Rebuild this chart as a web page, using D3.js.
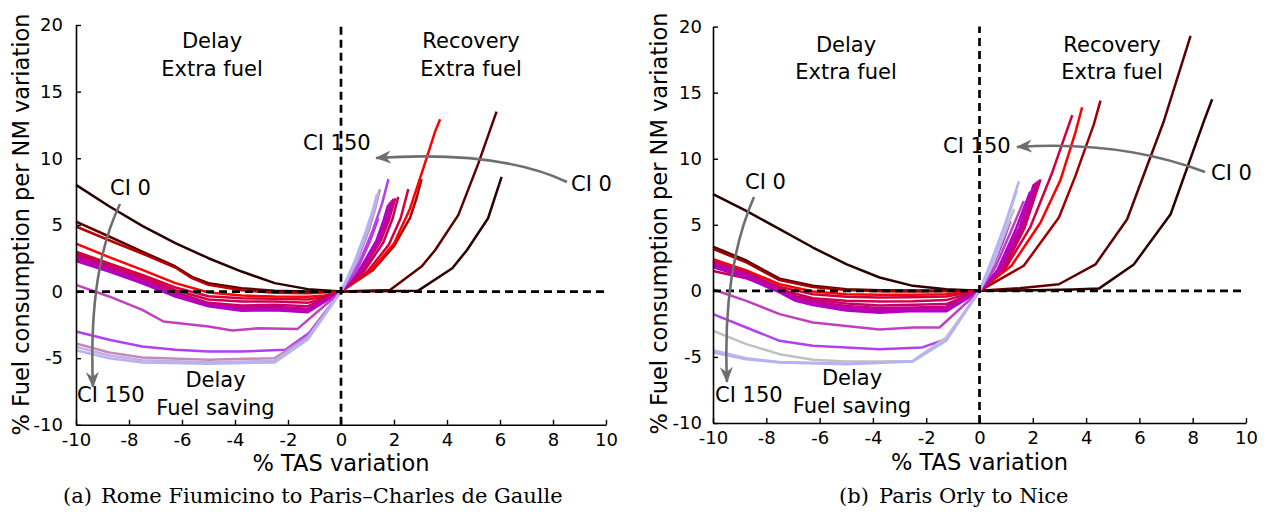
<!DOCTYPE html>
<html>
<head>
<meta charset="utf-8">
<script src="https://cdn.jsdelivr.net/npm/d3@7"></script>
<style>
  html, body { margin: 0; padding: 0; background: #fff; }
  svg { display: block; font-family: "DejaVu Sans", sans-serif; }
</style>
</head>
<body>
<svg id="chart" width="1267" height="515"></svg>
<script>
// Cost index levels, one curve per level
const ciLevels = [0, 10, 20, 30, 40, 50, 60, 70, 80, 90, 100, 110, 120, 130, 140, 150];

const romeColors = ['#2b0000', '#5e0000', '#b80000', '#ff0000', '#d4003a', '#cc0050', '#c8006c', '#c40084',
                    '#c0009c', '#bb00b0', '#b400c4', '#c040c0', '#b040f0', '#c38bbb', '#c8aee0', '#b4b4f4'];
const niceColors = ['#2b0000', '#5e0000', '#a00000', '#ff0000', '#d00038', '#cc0050', '#c8006c', '#c40084',
                    '#c0009c', '#bb00b0', '#b400c4', '#c040c0', '#b040f0', '#c0c0c0', '#c0b8ec', '#b4b4f4'];

const xTicks = [-10, -8, -6, -4, -2, 0, 2, 4, 6, 8, 10];
const yTicks = [-10, -5, 0, 5, 10, 15, 20];

// Rome Fiumicino -> Paris CDG: [% TAS variation, % fuel per NM variation], slow-down side
const romeDelay = [
  [[-10, 8.0], [-8.75, 6.4], [-7.5, 4.93], [-6.25, 3.63], [-5, 2.5], [-3.75, 1.5], [-2.5, 0.63], [-1.25, 0.18], [0, 0]],
  [[-10, 5.25], [-8.75, 4.13], [-7.5, 3.0], [-6.25, 1.88], [-5.625, 1.1], [-5, 0.63], [-3.75, 0.25], [-2.5, 0.05], [-1.25, 0], [0, 0]],
  [[-10, 4.88], [-8.75, 3.85], [-7.5, 2.85], [-6.25, 1.8], [-5.625, 1.0], [-5, 0.5], [-3.75, 0.1], [-2.5, -0.1], [-1.25, -0.12], [0, 0]],
  [[-10, 3.6], [-8.75, 2.58], [-7.5, 1.63], [-6.25, 0.63], [-5, -0.07], [-3.75, -0.3], [-2.5, -0.38], [-1.25, -0.4], [-0.625, -0.3], [0, 0]],
  [[-10, 3.0], [-8.75, 2.1], [-7.5, 1.25], [-6.25, 0.3], [-5, -0.35], [-3.75, -0.5], [-2.5, -0.55], [-1.25, -0.6], [-0.625, -0.4], [0, 0]],
  [[-10, 2.85], [-8.75, 2.0], [-7.5, 1.1], [-6.25, 0.1], [-5, -0.6], [-3.75, -0.75], [-2.5, -0.75], [-1.25, -0.85], [-0.625, -0.5], [0, 0]],
  [[-10, 2.7], [-8.75, 1.88], [-7.5, 0.98], [-6.25, -0.05], [-5, -0.85], [-3.75, -1.05], [-2.5, -1.0], [-1.25, -1.1], [0, 0]],
  [[-10, 2.6], [-8.75, 1.78], [-7.5, 0.88], [-6.25, -0.15], [-5, -0.95], [-3.75, -1.2], [-2.5, -1.15], [-1.25, -1.3], [0, 0]],
  [[-10, 2.5], [-8.75, 1.7], [-7.5, 0.8], [-6.25, -0.22], [-5, -1.0], [-3.75, -1.3], [-2.5, -1.25], [-1.25, -1.4], [0, 0]],
  [[-10, 2.4], [-8.75, 1.6], [-7.5, 0.72], [-6.25, -0.3], [-5, -1.05], [-3.75, -1.38], [-2.5, -1.32], [-1.25, -1.48], [0, 0]],
  [[-10, 2.28], [-8.75, 1.5], [-7.5, 0.62], [-6.25, -0.38], [-5, -1.1], [-3.75, -1.45], [-2.5, -1.4], [-1.25, -1.55], [0, 0]],
  [[-10, 0.5], [-8.75, -0.37], [-7.5, -1.37], [-6.7, -2.25], [-5, -2.62], [-4.1, -2.92], [-3.1, -2.75], [-1.65, -2.82], [0, 0]],
  [[-10, -3.0], [-8.75, -3.62], [-7.5, -4.12], [-6.25, -4.37], [-5, -4.5], [-3.75, -4.5], [-2.1, -4.37], [-1.2, -3.1], [0, 0]],
  [[-10, -3.9], [-8.75, -4.57], [-7.5, -4.95], [-5, -5.12], [-2.5, -5.0], [-1.25, -3.37], [0, 0]],
  [[-10, -4.15], [-8.75, -4.8], [-7.5, -5.15], [-5, -5.3], [-2.5, -5.2], [-1.25, -3.5], [0, 0]],
  [[-10, -4.4], [-8.75, -5.0], [-7.5, -5.32], [-5, -5.42], [-2.5, -5.32], [-1.25, -3.6], [0, 0]]
];

// Rome Fiumicino -> Paris CDG, speed-up side
const romeRecovery = [
  [[0, 0], [1.5, 0.03], [2.9, 0.05], [4.2, 1.75], [4.75, 3.1], [5.55, 5.5], [6.06, 8.6]],
  [[0, 0], [1.85, 0.12], [3.05, 1.9], [3.55, 3.1], [4.43, 5.75], [5.18, 9.6], [5.87, 13.5]],
  [[0, 0], [1.2, 1.6], [2.0, 3.4], [2.6, 5.5], [2.85, 7.0], [3.04, 8.43]],
  [[0, 0], [1.1, 1.5], [2.0, 3.6], [2.6, 6.2], [3.1, 9.2], [3.55, 12.0], [3.74, 12.93]],
  [[0, 0], [1.0, 1.5], [1.8, 3.5], [2.25, 5.5], [2.54, 7.68]],
  [[0, 0], [0.9, 1.6], [1.6, 3.7], [1.95, 5.5], [2.16, 7.1]],
  [[0, 0], [0.85, 1.7], [1.5, 3.8], [1.8, 5.3], [2.05, 7.0]],
  [[0, 0], [0.8, 1.7], [1.45, 3.8], [1.75, 5.3], [1.98, 6.95]],
  [[0, 0], [0.78, 1.7], [1.42, 3.8], [1.7, 5.3], [1.92, 6.85]],
  [[0, 0], [0.75, 1.7], [1.38, 3.8], [1.65, 5.3], [1.85, 6.7]],
  [[0, 0], [0.72, 1.7], [1.33, 3.8], [1.6, 5.3], [1.78, 6.5]],
  [[0, 0], [0.6, 1.6], [1.1, 3.8], [1.41, 5.5]],
  [[0, 0], [0.7, 2.2], [1.2, 4.6], [1.55, 6.6], [1.79, 8.43]],
  [[0, 0], [0.6, 2.2], [1.05, 4.6], [1.3, 6.3], [1.47, 7.68]],
  [[0, 0], [0.55, 2.2], [1.0, 4.6], [1.25, 6.2], [1.4, 7.4]],
  [[0, 0], [0.5, 2.2], [0.95, 4.6], [1.2, 6.1], [1.35, 7.25]]
];

// Paris Orly -> Nice, slow-down side
const niceDelay = [
  [[-10, 7.32], [-8.75, 6.05], [-7.5, 4.67], [-6.25, 3.28], [-5, 2.02], [-3.75, 1.01], [-2.5, 0.38], [-1.25, 0.13], [0, 0]],
  [[-10, 3.35], [-8.75, 2.3], [-7.5, 0.92], [-6.25, 0.38], [-5, 0.13], [-3.75, 0.05], [-2.5, 0.02], [0, 0]],
  [[-10, 3.18], [-8.75, 2.15], [-7.5, 0.82], [-6.25, 0.3], [-5, 0.06], [-3.75, -0.02], [-2.5, -0.05], [-1.25, -0.03], [0, 0]],
  [[-10, 2.4], [-8.75, 1.55], [-7.5, 0.5], [-6.25, -0.05], [-5, -0.25], [-3.75, -0.3], [-2.5, -0.3], [-1.25, -0.25], [0, 0]],
  [[-10, 2.2], [-8.75, 1.35], [-7.5, 0.3], [-6.25, -0.25], [-5, -0.45], [-3.75, -0.5], [-2.5, -0.48], [-1.25, -0.42], [0, 0]],
  [[-10, 1.5], [-8.75, 0.95], [-7.5, 0.1], [-6.25, -0.55], [-5, -0.75], [-3.75, -0.8], [-2.5, -0.78], [-1.25, -0.7], [0, 0]],
  [[-10, 2.25], [-8.75, 1.4], [-7.5, 0.25], [-6.9, -0.4], [-6.25, -0.65], [-5, -0.95], [-3.75, -1.1], [-2.5, -1.05], [-1.25, -1.0], [0, 0]],
  [[-10, 2.1], [-8.75, 1.28], [-7.5, 0.15], [-6.9, -0.5], [-6.25, -0.8], [-5, -1.15], [-3.75, -1.3], [-2.5, -1.25], [-1.25, -1.2], [0, 0]],
  [[-10, 2.0], [-8.75, 1.18], [-7.5, 0.05], [-6.9, -0.6], [-6.25, -0.9], [-5, -1.3], [-3.75, -1.45], [-2.5, -1.38], [-1.25, -1.35], [0, 0]],
  [[-10, 1.9], [-8.75, 1.08], [-7.5, -0.05], [-6.9, -0.68], [-6.25, -1.0], [-5, -1.4], [-3.75, -1.55], [-2.5, -1.45], [-1.25, -1.45], [0, 0]],
  [[-10, 1.8], [-8.75, 0.98], [-7.5, -0.12], [-6.9, -0.76], [-6.25, -1.08], [-5, -1.48], [-3.75, -1.65], [-2.5, -1.52], [-1.25, -1.55], [0, 0]],
  [[-10, 0.1], [-8.75, -0.76], [-7.5, -1.76], [-6.25, -2.4], [-5, -2.65], [-3.75, -2.92], [-2.5, -2.77], [-1.5, -2.77], [0, 0]],
  [[-10, -1.76], [-8.75, -2.77], [-7.5, -3.78], [-6.25, -4.16], [-5, -4.28], [-3.75, -4.41], [-2.15, -4.28], [-1.25, -3.65], [0, 0]],
  [[-10, -3.02], [-8.75, -4.03], [-7.5, -4.79], [-6.25, -5.22], [-5, -5.35], [-3.75, -5.35], [-2.5, -5.3], [-1.25, -3.53], [0, 0]],
  [[-10, -4.5], [-8.75, -5.1], [-7.5, -5.38], [-5, -5.5], [-2.5, -5.33], [-1.25, -3.7], [0, 0]],
  [[-10, -4.66], [-8.75, -5.17], [-7.5, -5.42], [-5, -5.55], [-2.5, -5.35], [-1.25, -3.78], [0, 0]]
];

// Paris Orly -> Nice, speed-up side
const niceRecovery = [
  [[0, 0], [2.0, 0.05], [3.5, 0.1], [4.48, 0.17], [5.79, 2.0], [7.17, 5.8], [8.42, 12.85], [8.73, 14.5]],
  [[0, 0], [1.5, 0.2], [2.98, 0.5], [4.35, 2.0], [5.54, 5.42], [6.92, 12.86], [7.92, 19.3]],
  [[0, 0], [1.66, 1.9], [2.98, 5.55], [3.6, 8.7], [4.29, 12.6], [4.54, 14.4]],
  [[0, 0], [1.2, 1.9], [2.29, 5.17], [3.04, 8.4], [3.6, 12.0], [3.85, 13.9]],
  [[0, 0], [1.0, 1.8], [1.9, 4.8], [2.7, 8.8], [3.48, 13.3]],
  [[0, 0], [0.9, 1.6], [1.7, 4.8], [2.29, 8.44]],
  [[0, 0], [0.85, 1.6], [1.65, 4.8], [2.23, 8.37]],
  [[0, 0], [0.8, 1.6], [1.6, 4.8], [2.16, 8.27]],
  [[0, 0], [0.75, 1.6], [1.55, 4.8], [2.1, 8.17]],
  [[0, 0], [0.72, 1.6], [1.5, 4.8], [2.04, 8.07]],
  [[0, 0], [0.68, 1.6], [1.35, 4.6], [1.9, 7.5]],
  [[0, 0], [0.6, 1.8], [1.2, 4.6], [1.66, 6.8]],
  [[0, 0], [0.5, 1.8], [0.9, 3.8], [1.16, 5.3]],
  [[0, 0], [0.5, 2.0], [0.95, 4.4], [1.3, 6.2]],
  [[0, 0], [0.48, 2.2], [0.95, 4.8], [1.4, 7.6]],
  [[0, 0], [0.45, 2.3], [0.95, 5.0], [1.48, 8.3]]
];

const svg = d3.select('#chart');
svg.append('rect').attr('width', 1267).attr('height', 515).attr('fill', '#fff');

const arrowGrey = '#6e6e6e';
svg.append('defs').append('marker')
  .attr('id', 'arrowHead')
  .attr('markerUnits', 'userSpaceOnUse')
  .attr('viewBox', '-17 -8 19 16')
  .attr('refX', 0).attr('refY', 0)
  .attr('markerWidth', 19).attr('markerHeight', 16)
  .attr('orient', 'auto')
  .append('path')
  .attr('d', 'M1,0 L-15,-6.5 L-10,0 L-15,6.5 Z')
  .attr('fill', arrowGrey);

const panels = [
  {
    delay: romeDelay, recovery: romeRecovery, colors: romeColors,
    xRange: [76, 606], yRange: [424.8, 25],
    xPad: 8.5, yPad: 13,
    yTitleX: 29, yTitleY: 224.5, xTitleY: 470.5,
    caption: { tag: '(a)', tagX: 63, text: 'Rome Fiumicino to Paris–Charles de Gaulle', textX: 101, y: 503 },
    notes: [
      { lines: ['Delay', 'Extra fuel'], x: 212, y: 48, anchor: 'middle' },
      { lines: ['Recovery', 'Extra fuel'], x: 471, y: 48, anchor: 'middle' },
      { lines: ['Delay', 'Fuel saving'], x: 215.5, y: 387, anchor: 'middle' },
      { lines: ['CI 150'], x: 303, y: 150, anchor: 'start' },
      { lines: ['CI 0'], x: 571, y: 191, anchor: 'start' },
      { lines: ['CI 0'], x: 110, y: 195, anchor: 'start' },
      { lines: ['CI 150'], x: 77, y: 402, anchor: 'start' }
    ],
    arrows: ['M567,182 Q500,150 376,158', 'M120,204 Q88,270 93,387']
  },
  {
    delay: niceDelay, recovery: niceRecovery, colors: niceColors,
    xRange: [713, 1246], yRange: [423, 26.6],
    xPad: 8, yPad: 11,
    yTitleX: 667, yTitleY: 223.5, xTitleY: 469.5,
    caption: { tag: '(b)', tagX: 839, text: 'Paris Orly to Nice', textX: 879, y: 503 },
    notes: [
      { lines: ['Delay', 'Extra fuel'], x: 846, y: 51.5, anchor: 'middle' },
      { lines: ['Recovery', 'Extra fuel'], x: 1112, y: 51.5, anchor: 'middle' },
      { lines: ['Delay', 'Fuel saving'], x: 852, y: 385, anchor: 'middle' },
      { lines: ['CI 150'], x: 943, y: 152.5, anchor: 'start' },
      { lines: ['CI 0'], x: 1211, y: 180, anchor: 'start' },
      { lines: ['CI 0'], x: 745, y: 189, anchor: 'start' },
      { lines: ['CI 150'], x: 715, y: 402, anchor: 'start' }
    ],
    arrows: ['M1205,172 Q1120,140 1017,147', 'M754,197 Q722,270 727,382']
  }
];

function drawPanel(p) {
  const x = d3.scaleLinear().domain([-10, 10]).range(p.xRange);
  const y = d3.scaleLinear().domain([-10, 20]).range(p.yRange);
  const g = svg.append('g');

  // one curve per cost index: slow-down branch joined to the speed-up branch
  const line = d3.line().x(d => x(d[0])).y(d => y(d[1]));
  const curves = g.append('g').attr('fill', 'none')
    .attr('stroke-width', 2.5).attr('stroke-linejoin', 'round').attr('stroke-linecap', 'butt');
  ciLevels.forEach((ci, i) => {
    const pts = p.delay[i].concat(p.recovery[i].slice(1));
    curves.append('path').attr('d', line(pts)).attr('stroke', p.colors[i]);
  });

  // dashed reference lines through the origin
  g.append('line')
    .attr('x1', x(-10)).attr('x2', x(10)).attr('y1', y(0)).attr('y2', y(0))
    .attr('stroke', '#000').attr('stroke-width', 2.7).attr('stroke-dasharray', '8,5');
  g.append('line')
    .attr('x1', x(0)).attr('x2', x(0)).attr('y1', y(-10)).attr('y2', y(20))
    .attr('stroke', '#000').attr('stroke-width', 2.7).attr('stroke-dasharray', '8,5');

  // axes: only left and bottom spines, ticks pointing inward
  const xAxis = d3.axisBottom(x).tickValues(xTicks).tickFormat(d => String(d))
    .tickSizeInner(-5).tickSizeOuter(0).tickPadding(p.xPad);
  const yAxis = d3.axisLeft(y).tickValues(yTicks).tickFormat(d => String(d))
    .tickSizeInner(-5).tickSizeOuter(0).tickPadding(p.yPad);

  const gx = g.append('g').attr('transform', `translate(0,${p.yRange[0]})`).call(xAxis);
  const gy = g.append('g').attr('transform', `translate(${p.xRange[0]},0)`).call(yAxis);
  [gx, gy].forEach(a => {
    a.attr('font-family', '"DejaVu Sans", sans-serif').attr('font-size', 18);
    a.select('.domain').attr('stroke', '#000').attr('stroke-width', 1.6);
    a.selectAll('.tick line').attr('stroke', '#000').attr('stroke-width', 1.4);
    a.selectAll('.tick text').attr('fill', '#000');
  });

  // axis titles
  g.append('text')
    .attr('x', x(0)).attr('y', p.xTitleY)
    .attr('text-anchor', 'middle').attr('font-size', 22.5).attr('fill', '#000')
    .text('% TAS variation');
  g.append('text')
    .attr('transform', `translate(${p.yTitleX},${p.yTitleY}) rotate(-90)`)
    .attr('text-anchor', 'middle').attr('font-size', 22.5).attr('fill', '#000')
    .text('% Fuel consumption per NM variation');

  // region notes
  p.notes.forEach(n => {
    const t = g.append('text').attr('text-anchor', n.anchor).attr('font-size', 21).attr('fill', '#000');
    n.lines.forEach((s, k) => {
      t.append('tspan').attr('x', n.x).attr('y', n.y + k * 27.5).text(s);
    });
  });

  // cost-index direction arrows
  p.arrows.forEach(d => {
    g.append('path').attr('d', d).attr('fill', 'none')
      .attr('stroke', arrowGrey).attr('stroke-width', 2.6)
      .attr('marker-end', 'url(#arrowHead)');
  });

  // sub-caption
  const c = g.append('g').attr('font-family', '"DejaVu Serif", serif').attr('font-size', 21).attr('fill', '#000');
  c.append('text').attr('x', p.caption.tagX).attr('y', p.caption.y).text(p.caption.tag);
  c.append('text').attr('x', p.caption.textX).attr('y', p.caption.y).text(p.caption.text);
}

panels.forEach(drawPanel);
</script>
</body>
</html>
